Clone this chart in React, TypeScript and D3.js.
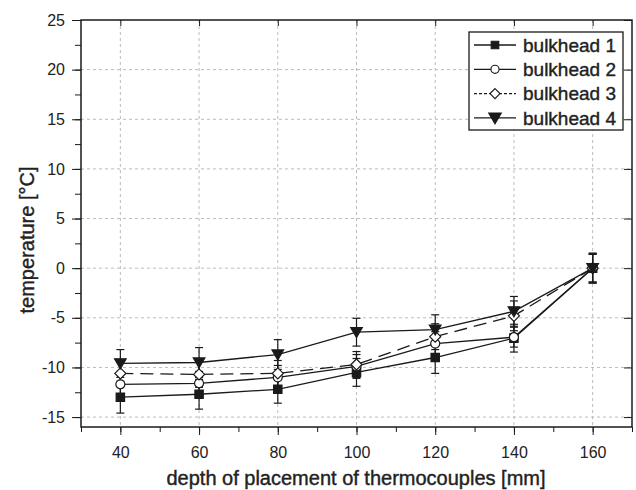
import React, { useRef, useEffect } from 'react'
import * as d3 from 'd3'

const depths = [40, 60, 80, 100, 120, 140, 160]
const bulkhead1 = [-13.0, -12.7, -12.2, -10.5, -9.0, -7.05, 0]
const bulkhead2 = [-11.7, -11.6, -11.0, -9.9, -7.6, -6.95, 0]
const bulkhead3 = [-10.6, -10.7, -10.6, -9.7, -6.9, -4.8, 0]
const bulkhead4 = [-9.6, -9.5, -8.7, -6.45, -6.2, -4.35, 0]
const err1 = [1.6, 1.5, 1.4, 1.4, 1.6, 1.4, 1.5]
const err2 = [1.2, 1.2, 1.2, 1.2, 1.2, 1.0, 1.4]
const err3 = [1.3, 1.3, 1.3, 1.3, 1.3, 1.5, 1.4]
const err4 = [1.4, 1.5, 1.5, 1.4, 1.5, 1.5, 1.5]
const seriesNames = ['bulkhead 1', 'bulkhead 2', 'bulkhead 3', 'bulkhead 4']
const xTicks = [40, 60, 80, 100, 120, 140, 160]
const yTicks = [-15, -10, -5, 0, 5, 10, 15, 20, 25]

const FONT = '"Liberation Sans", Arial, Helvetica, sans-serif'

const App = () => {
  const visEl = useRef(null)
  const width = 636
  const height = 490

  useEffect(() => {
    const root = d3.select(visEl.current)
    root.selectAll('*').remove()
    const svg = root.append('svg')
      .attr('width', width)
      .attr('height', height)
      .style('display', 'block')
      .style('font-family', FONT)

    svg.append('rect').attr('width', width).attr('height', height).attr('fill', '#fff')

    const left = 81, right = 632, top = 20, bottom = 427
    const ink = '#1a1a1a'
    const textInk = '#222'

    const x = d3.scaleLinear().domain([30, 170]).range([left, right])
    const y = d3.scaleLinear().domain([-16, 25]).range([bottom, top])

    // dashed grid at the major ticks
    const grid = svg.append('g')
    grid.selectAll('.gx').data(xTicks).enter().append('line')
      .attr('x1', d => x(d)).attr('x2', d => x(d))
      .attr('y1', top).attr('y2', bottom)
      .attr('stroke', '#bbb').attr('stroke-width', 1).attr('stroke-dasharray', '3,3')
    grid.selectAll('.gy').data(yTicks.filter(d => d < 25)).enter().append('line')
      .attr('y1', d => y(d)).attr('y2', d => y(d))
      .attr('x1', left).attr('x2', right)
      .attr('stroke', '#bbb').attr('stroke-width', 1).attr('stroke-dasharray', '3,3')

    const xMinor = d3.range(30, 171, 10)
    const yMinor = d3.range(-15, 25.1, 2.5)
    const plain = (d: any) => `${d}`

    const bottomAxis = svg.append('g').attr('transform', `translate(0,${bottom})`)
    bottomAxis.call(d3.axisBottom(x).tickValues(xMinor).tickSize(5).tickFormat(() => ''))
    bottomAxis.select('.domain').remove()
    const bottomMajor = svg.append('g').attr('transform', `translate(0,${bottom})`)
      .call(d3.axisBottom(x).tickValues(xTicks).tickSize(8).tickPadding(12).tickFormat(plain))
    bottomMajor.select('.domain').remove()
    bottomMajor.selectAll('text').attr('font-size', 16).attr('font-family', FONT).attr('fill', textInk)

    const leftAxis = svg.append('g').attr('transform', `translate(${left},0)`)
    leftAxis.call(d3.axisLeft(y).tickValues(yMinor).tickSize(6).tickFormat(() => ''))
    leftAxis.select('.domain').remove()
    const leftMajor = svg.append('g').attr('transform', `translate(${left},0)`)
      .call(d3.axisLeft(y).tickValues(yTicks).tickSize(9).tickPadding(7).tickFormat(plain))
    leftMajor.select('.domain').remove()
    leftMajor.selectAll('text').attr('font-size', 16).attr('font-family', FONT).attr('fill', textInk)

    const topAxis = svg.append('g').attr('transform', `translate(0,${top})`)
    topAxis.call(d3.axisBottom(x).tickValues(xMinor).tickSize(3).tickFormat(() => ''))
    topAxis.call(d3.axisBottom(x).tickValues(xTicks).tickSize(6).tickFormat(() => ''))
    topAxis.selectAll('.domain').remove()

    const rightAxis = svg.append('g').attr('transform', `translate(${right},0)`)
    rightAxis.call(d3.axisLeft(y).tickValues(yMinor).tickSize(4).tickFormat(() => ''))
    rightAxis.call(d3.axisLeft(y).tickValues(yTicks).tickSize(8).tickFormat(() => ''))
    rightAxis.selectAll('.domain').remove()

    svg.selectAll('.tick line').attr('stroke', ink)

    // frame
    svg.append('rect')
      .attr('x', left).attr('y', top)
      .attr('width', right - left).attr('height', bottom - top)
      .attr('fill', 'none').attr('stroke', ink).attr('stroke-width', 1.5)

    const series = [
      { name: seriesNames[0], values: bulkhead1, errs: err1, dash: null, legendDash: null, marker: 'square' },
      { name: seriesNames[1], values: bulkhead2, errs: err2, dash: null, legendDash: null, marker: 'circle' },
      { name: seriesNames[2], values: bulkhead3, errs: err3, dash: '13,7', legendDash: '3,2', marker: 'diamond' },
      { name: seriesNames[3], values: bulkhead4, errs: err4, dash: null, legendDash: null, marker: 'triangle' },
    ]

    const symbolFor = (m: string) => {
      if (m === 'square') return d3.symbol().type(d3.symbolSquare).size(70)()
      if (m === 'circle') return d3.symbol().type(d3.symbolCircle).size(64)()
      if (m === 'diamond') return 'M0,-5.5L5.5,0L0,5.5L-5.5,0Z'
      return 'M-5.8,-4.6L5.8,-4.6L0,5.4Z'
    }
    const filled = (m: string) => m === 'square' || m === 'triangle'

    const line = d3.line<number>().x((d, i) => x(depths[i])).y(d => y(d))
    const plot = svg.append('g')

    // error bars
    series.forEach(s => {
      const eb = plot.append('g')
      s.values.forEach((v, i) => {
        const cx = x(depths[i])
        eb.append('line').attr('x1', cx).attr('x2', cx)
          .attr('y1', y(v - s.errs[i])).attr('y2', y(v + s.errs[i]))
          .attr('stroke', ink).attr('stroke-width', 1.2)
        ;[v - s.errs[i], v + s.errs[i]].forEach(e => {
          eb.append('line').attr('x1', cx - 4).attr('x2', cx + 4)
            .attr('y1', y(e)).attr('y2', y(e))
            .attr('stroke', ink).attr('stroke-width', 1.2)
        })
      })
    })

    series.forEach(s => {
      plot.append('path')
        .attr('d', line(s.values))
        .attr('fill', 'none')
        .attr('stroke', ink)
        .attr('stroke-width', 1.3)
        .attr('stroke-dasharray', s.dash)
    })

    series.forEach(s => {
      plot.selectAll(null).data(s.values).enter().append('path')
        .attr('d', symbolFor(s.marker))
        .attr('transform', (d, i) => `translate(${x(depths[i])},${y(d)})`)
        .attr('fill', filled(s.marker) ? ink : '#fff')
        .attr('stroke', ink)
        .attr('stroke-width', 1.2)
    })

    // legend
    const lg = svg.append('g')
    lg.append('rect')
      .attr('x', 469).attr('y', 32).attr('width', 154).attr('height', 98)
      .attr('fill', '#fff').attr('stroke', ink).attr('stroke-width', 1.3)
    series.forEach((s, i) => {
      const ly = 45 + i * 24.3
      lg.append('line').attr('x1', 474).attr('x2', 516).attr('y1', ly).attr('y2', ly)
        .attr('stroke', ink).attr('stroke-width', 1.3).attr('stroke-dasharray', s.legendDash)
      lg.append('path').attr('d', symbolFor(s.marker))
        .attr('transform', `translate(495,${ly}) scale(${s.marker === 'triangle' ? 1.05 : 0.9})`)
        .attr('fill', filled(s.marker) ? ink : '#fff')
        .attr('stroke', ink).attr('stroke-width', 1.3)
      lg.append('text').attr('x', 523).attr('y', ly).attr('dy', '0.36em')
        .attr('font-size', 19).attr('fill', textInk)
        .attr('stroke', textInk).attr('stroke-width', 0.4)
        .text(s.name)
    })

    // axis titles
    svg.append('text')
      .attr('x', 356).attr('y', 485)
      .attr('text-anchor', 'middle')
      .attr('font-size', 20).attr('fill', textInk)
      .attr('stroke', textInk).attr('stroke-width', 0.4)
      .text('depth of placement of thermocouples [mm]')

    svg.append('text')
      .attr('transform', `translate(34,240) rotate(-90)`)
      .attr('text-anchor', 'middle')
      .attr('font-size', 20).attr('fill', textInk)
      .attr('stroke', textInk).attr('stroke-width', 0.4)
      .text('temperature [°C]')
  }, [])

  return (
    <div style={{ position: 'absolute', left: 0, top: 0 }}>
      <div ref={visEl}></div>
    </div>
  )
}

export default App
